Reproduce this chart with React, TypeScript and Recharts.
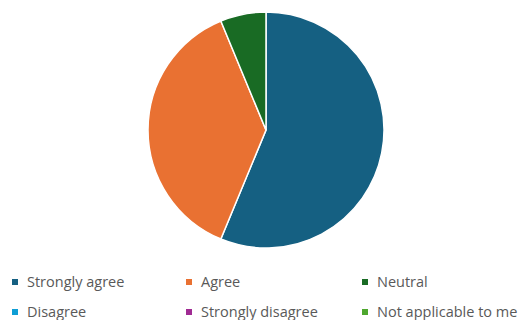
import { PieChart, Pie, Cell, Legend } from 'recharts';

const categories = [
  'Strongly agree',
  'Agree',
  'Neutral',
  'Disagree',
  'Strongly disagree',
  'Not applicable to me',
];
const responses = [9, 6, 1, 0, 0, 0];
const colors = ['#156082', '#E97132', '#196B24', '#0F9ED5', '#A02B93', '#4EA72E'];

const data = categories.map((name, i) => ({ name, value: responses[i] }));

function ResponseLegend() {
  return (
    <div
      style={{
        display: 'grid',
        gridTemplateColumns: '174px 176px 160px',
        rowGap: 12,
        fontFamily: '"Open Sans", sans-serif',
        fontSize: 14.5,
        color: '#595959',
        lineHeight: '18px',
      }}
    >
      {categories.map((name, i) => (
        <div key={name} style={{ display: 'flex', alignItems: 'center', whiteSpace: 'nowrap' }}>
          <span
            style={{
              width: 6,
              height: 6,
              background: colors[i],
              marginRight: 9,
              flex: 'none',
            }}
          />
          {name}
        </div>
      ))}
    </div>
  );
}

export default function App() {
  return (
    <div style={{ position: 'absolute', left: 0, top: 0, width: 525, height: 320, background: '#fff' }}>
      <PieChart width={525} height={320} margin={{ top: 0, right: 0, bottom: 0, left: 0 }}>
        <Pie
          data={data}
          dataKey="value"
          nameKey="name"
          cx={266}
          cy={130}
          outerRadius={118}
          startAngle={90}
          endAngle={-270}
          stroke="#fff"
          strokeWidth={1.5}
          isAnimationActive={false}
        >
          {data.map((d, i) => (
            <Cell key={d.name} fill={colors[i]} />
          ))}
        </Pie>
        <Legend
          content={() => <ResponseLegend />}
          wrapperStyle={{ left: 12, top: 273, width: 513 }}
        />
      </PieChart>
    </div>
  );
}
